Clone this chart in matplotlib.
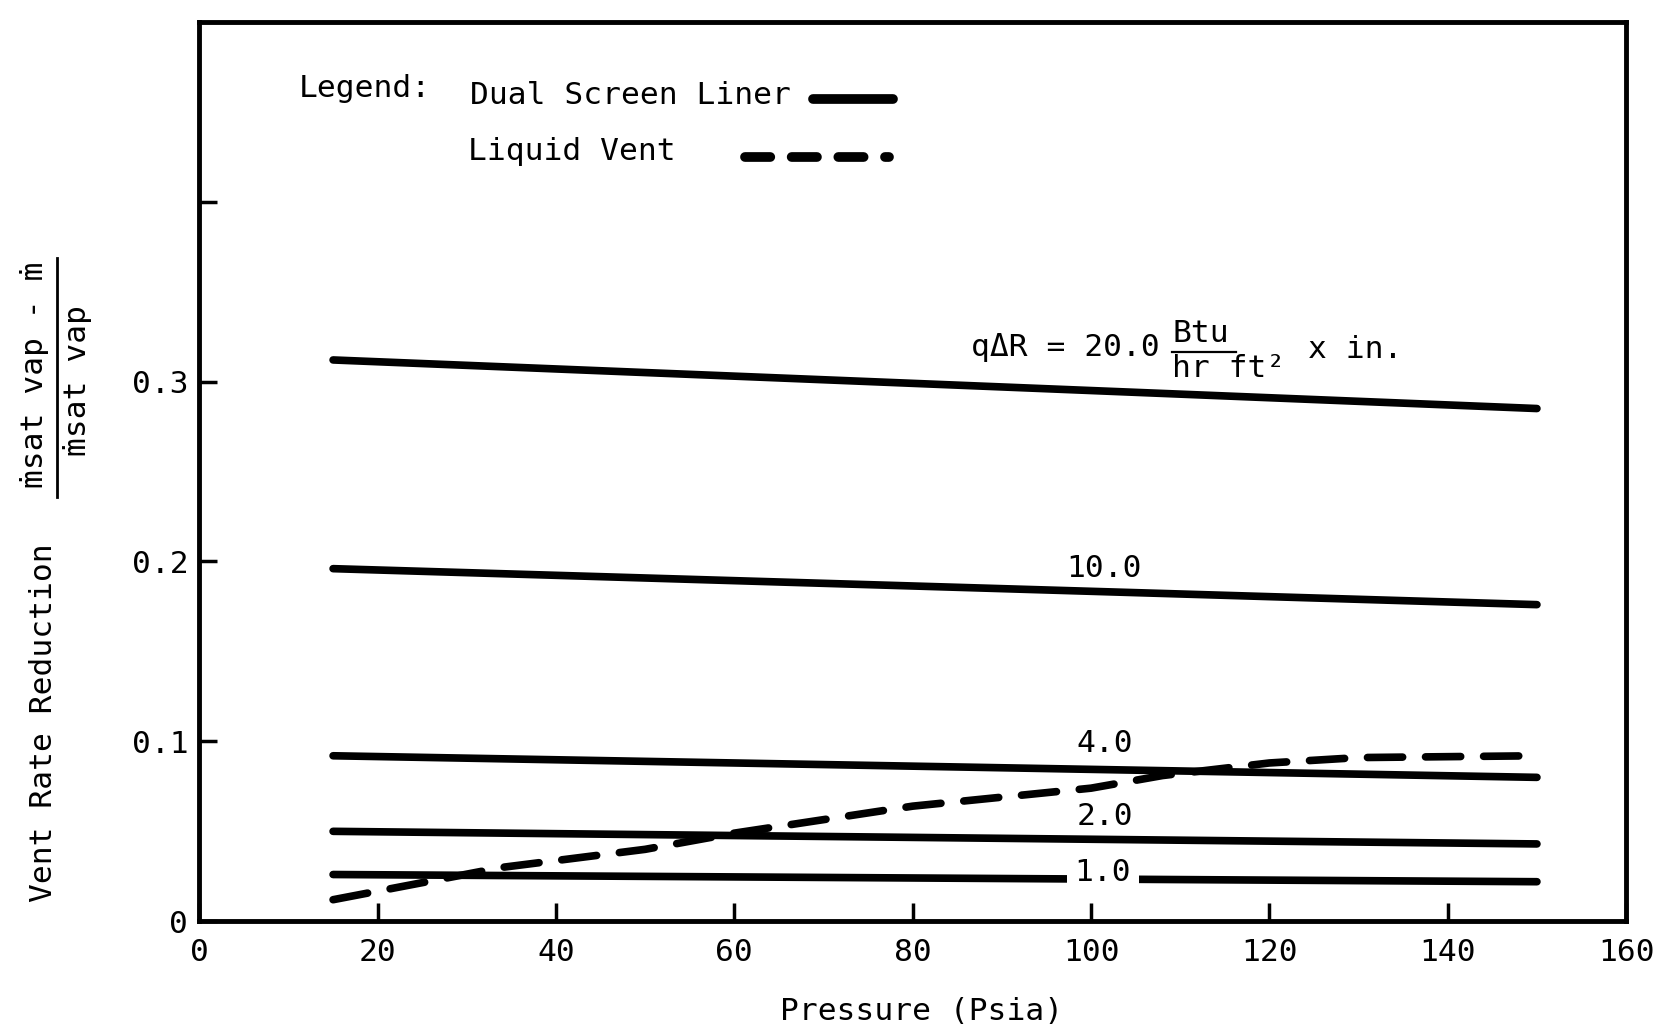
import matplotlib
matplotlib.use("Agg")
import matplotlib.pyplot as plt
from matplotlib.lines import Line2D

# typewriter-like look of the original report figure
FONT = ["DejaVu Sans Mono", "DejaVu Sans"]
plt.rcParams["font.family"] = FONT
plt.rcParams["font.size"] = 22.5

# ---------------- data ----------------
# Dual screen liner, one line per q*dR value (Btu/hr ft^2 x in.)
liner_pressure = [15, 150]
liner_q20 = [0.312, 0.285]
liner_q10 = [0.196, 0.176]
liner_q4 = [0.092, 0.080]
liner_q2 = [0.050, 0.043]
liner_q1 = [0.026, 0.022]

# Liquid vent (dashed)
vent_pressure = [15, 34, 50, 60, 80, 100, 108, 120, 130, 150]
vent_reduction = [0.012, 0.030, 0.040, 0.049, 0.064, 0.074, 0.081, 0.088, 0.091, 0.092]

# in-plot labels for the liner lines
line_labels = ["10.0", "4.0", "2.0"]
line_label_x = [101.5, 101.5, 101.5]
line_label_y = [0.196, 0.099, 0.058]

x_ticks = [0, 20, 40, 60, 80, 100, 120, 140, 160]
y_ticks = [0, 0.1, 0.2, 0.3, 0.4]
y_tick_labels = ["0", "0.1", "0.2", "0.3", ""]

LW = 5.5

fig = plt.figure(figsize=(16.61, 10.34), dpi=100)
ax = fig.add_axes([0.120, 0.109, 0.859, 0.870])

for y in (liner_q20, liner_q10, liner_q4, liner_q2, liner_q1):
    ax.plot(liner_pressure, y, color="black", lw=LW, solid_capstyle="round")

ax.plot(vent_pressure, vent_reduction, color="black", lw=LW,
        dashes=(4.6, 3.0), dash_capstyle="round", solid_joinstyle="round")

for lab, lx, ly in zip(line_labels, line_label_x, line_label_y):
    ax.text(lx, ly, lab, ha="center", va="center")

# 1.0 label sits in a gap of its own line
ax.text(101.3, 0.027, "1.0", ha="center", va="center", zorder=5,
        bbox=dict(boxstyle="square,pad=0.25", facecolor="white", edgecolor="none"))

# q dR = 20.0 Btu/(hr ft^2) x in.
ax.text(86.5, 0.314, "q\u0394R = 20.0", ha="left", va="baseline")
ax.text(109.1, 0.322, "Btu", ha="left", va="baseline")
ax.plot([109.1, 116.3], [0.3165, 0.3165], color="black", lw=1.6)
ax.text(109.1, 0.3025, "hr ft\u00b2", ha="left", va="baseline")
ax.text(124.3, 0.313, "x in.", ha="left", va="baseline")

# hand-drawn style legend
ax.text(11.2, 0.463, "Legend:", ha="left", va="center")
ax.text(30.4, 0.459, "Dual Screen Liner", ha="left", va="center")
ax.text(30.1, 0.428, "Liquid Vent", ha="left", va="center")
ax.add_line(Line2D([68.8, 77.8], [0.457, 0.457], color="black", lw=7,
                   solid_capstyle="round"))
ax.add_line(Line2D([61.2, 77.3], [0.425, 0.425], color="black", lw=7,
                   dashes=(2.6, 2.2), dash_capstyle="round"))

ax.set_xlim(0, 160)
ax.set_ylim(0, 0.5)
ax.set_xticks(x_ticks)
ax.set_xticklabels([str(t) for t in x_ticks])
ax.set_yticks(y_ticks)
ax.set_yticklabels(y_tick_labels)
ax.tick_params(direction="in", length=13, width=2.5, labelsize=22.5)
ax.tick_params(axis="x", pad=12)
ax.tick_params(axis="y", pad=8)
for s in ax.spines.values():
    s.set_linewidth(3.5)

fig.text(922 / 1661, 1 - 1012 / 1034, "Pressure (Psia)", ha="center", va="center")

# y label: fraction above "Vent Rate Reduction"
fig.text(44 / 1661, 1 - 723 / 1034, "Vent Rate Reduction", rotation=90,
         ha="center", va="center")
fig.text(35 / 1661, 1 - 375 / 1034, "\u1e41sat vap - \u1e41", rotation=90,
         ha="center", va="center")
fig.text(77 / 1661, 1 - 381 / 1034, "\u1e41sat vap", rotation=90,
         ha="center", va="center")
fig.add_artist(Line2D([57 / 1661, 57 / 1661], [1 - 258 / 1034, 1 - 497 / 1034],
                      transform=fig.transFigure, color="black", lw=2))

fig.savefig("out.png", dpi=100)
